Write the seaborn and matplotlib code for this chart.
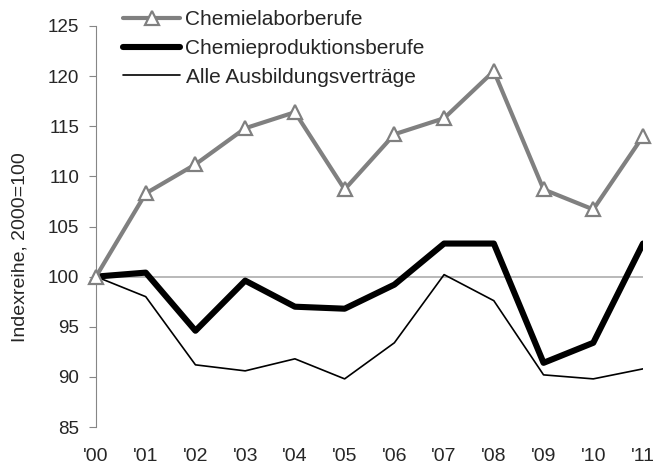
import matplotlib
matplotlib.use("Agg")
import matplotlib.pyplot as plt
import seaborn as sns
import pandas as pd

# Index series, 2000 = 100
years = ["'00", "'01", "'02", "'03", "'04", "'05", "'06", "'07", "'08", "'09", "'10", "'11"]
labor = [100.0, 108.3, 111.2, 114.8, 116.4, 108.7, 114.2, 115.8, 120.5, 108.7, 106.7, 114.0]
produktion = [100.0, 100.4, 94.6, 99.6, 97.0, 96.8, 99.2, 103.3, 103.3, 91.4, 93.4, 103.3]
alle = [100.0, 98.0, 91.2, 90.6, 91.8, 89.8, 93.4, 100.2, 97.6, 90.2, 89.8, 90.8]
series_names = ["Chemielaborberufe", "Chemieproduktionsberufe", "Alle Ausbildungsverträge"]
y_ticks = [85, 90, 95, 100, 105, 110, 115, 120, 125]

sns.set_theme(style="white")
plt.rcParams["font.family"] = ["Liberation Sans", "DejaVu Sans"]

x = list(range(len(years)))
df = pd.DataFrame({"x": x, series_names[0]: labor,
                   series_names[1]: produktion, series_names[2]: alle})

fig = plt.figure(figsize=(6.57, 4.66), dpi=100)
ax = fig.add_axes([96 / 657, 1 - 427 / 466, (643 - 96) / 657, (427 - 26) / 466])

# reference line at the base year level
ax.plot([0, 11], [100, 100], color="#a6a6a6", lw=1.1, zorder=1)

sns.lineplot(data=df, x="x", y=series_names[2], ax=ax, color="black",
             lw=1.2, label=series_names[2], zorder=2)
sns.lineplot(data=df, x="x", y=series_names[1], ax=ax, color="black",
             lw=4.4, label=series_names[1], zorder=3)
sns.lineplot(data=df, x="x", y=series_names[0], ax=ax, color="#808080",
             lw=3.0, marker="^", markersize=10, markerfacecolor="white",
             markeredgecolor="#808080", markeredgewidth=1.6,
             label=series_names[0], zorder=4, clip_on=False)

ax.set_xlim(0, 11)
ax.set_ylim(85, 125)
ax.set_yticks(y_ticks)
ax.set_yticklabels([str(v) for v in y_ticks], fontsize=13.5)
ax.set_xticks(x)
ax.set_xticklabels(years, fontsize=14)
ax.tick_params(axis="x", length=0, pad=15)
ax.tick_params(axis="y", length=5, width=0.8, color="#868686", pad=7, left=True)
ax.set_xlabel("")
ax.set_ylabel("Indexreihe, 2000=100", fontsize=14)
ax.yaxis.set_label_coords(-0.123, 0.449)

for side in ["top", "right", "bottom"]:
    ax.spines[side].set_visible(False)
ax.spines["left"].set_color("#868686")
ax.spines["left"].set_linewidth(0.8)

handles, labels = ax.get_legend_handles_labels()
order = [labels.index(n) for n in series_names]
leg = ax.legend([handles[i] for i in order], [labels[i] for i in order],
                loc="upper left", bbox_to_anchor=(123 / 657, 1 - 10 / 466),
                bbox_transform=fig.transFigure, frameon=False, fontsize=15,
                handlelength=2.75, handletextpad=0.25, labelspacing=0.47,
                borderpad=0, borderaxespad=0)

fig.savefig("out.png", dpi=100)
